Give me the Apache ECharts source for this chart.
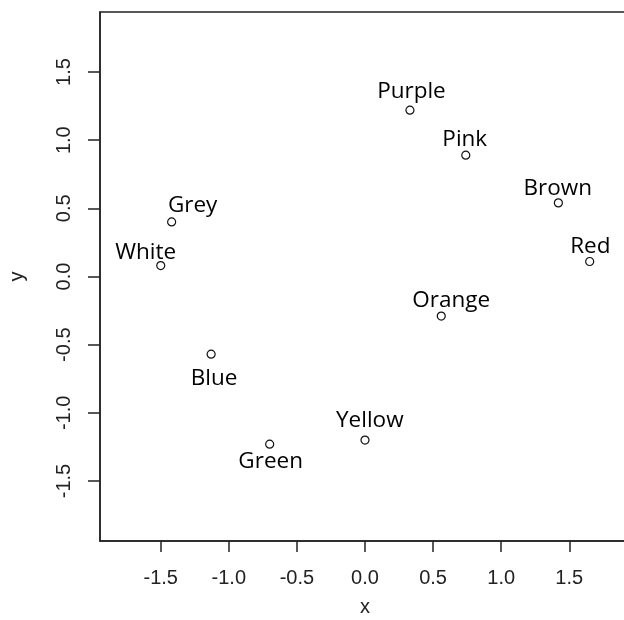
<!DOCTYPE html>
<html>
<head>
<meta charset="utf-8">
<script src="https://cdn.jsdelivr.net/npm/echarts@6/dist/echarts.min.js"></script>
<style>
  html, body { margin: 0; padding: 0; background: #fff; }
  #chart { width: 624px; height: 620px; }
</style>
</head>
<body>
<div id="chart"></div>
<script>
// ---- data ----
const names = ["Purple", "Pink", "Brown", "Red", "Orange", "Grey", "White", "Blue", "Green", "Yellow"];
const xValues = [0.33, 0.74, 1.42, 1.65, 0.56, -1.42, -1.50, -1.13, -0.70, 0.00];
const yValues = [1.22, 0.89, 0.54, 0.11, -0.29, 0.40, 0.08, -0.57, -1.23, -1.20];
const xTicks = [-1.5, -1.0, -0.5, 0.0, 0.5, 1.0, 1.5];
const yTicks = [-1.5, -1.0, -0.5, 0.0, 0.5, 1.0, 1.5];

// ---- layout (label placement relative to each point, in px) ----
const labelOffsets = {
  Purple: [1.5, -19], Pink: [-1, -16], Brown: [-0.6, -14.3], Red: [0.6, -14.6],
  Orange: [10, -15.7], Grey: [21, -16], White: [-15, -13.4], Blue: [3, 24],
  Green: [1, 17.8], Yellow: [4.8, -20]
};

const ink = '#222';
const tickFont = { fontFamily: 'Liberation Sans', fontSize: 20, color: ink };

const seriesData = names.map((n, i) => ({
  name: n,
  value: [xValues[i], yValues[i]],
  label: { offset: labelOffsets[n] }
}));

const chart = echarts.init(document.getElementById('chart'), null, { renderer: 'canvas' });
chart.setOption({
  animation: false,
  backgroundColor: '#fff',
  grid: {
    show: true, left: 100, top: 12, right: -6, bottom: 79,
    outerBoundsMode: 'none', containLabel: false,
    borderColor: '#222', borderWidth: 1.5, backgroundColor: 'transparent'
  },
  xAxis: {
    type: 'value', min: -1.946, max: 1.946,
    name: 'x', nameLocation: 'middle', nameGap: 56,
    nameTextStyle: { fontFamily: 'Liberation Sans', fontSize: 20, color: ink },
    axisLine: { show: true, onZero: false, lineStyle: { color: '#222', width: 1.5 } },
    splitLine: { show: false },
    axisTick: { show: true, length: 11, customValues: xTicks, lineStyle: { color: '#222', width: 1.5 } },
    axisLabel: Object.assign({ margin: 27, customValues: xTicks, formatter: v => v.toFixed(1) }, tickFont)
  },
  yAxis: {
    type: 'value', min: -1.94, max: 1.94,
    name: 'y', nameLocation: 'middle', nameGap: 73,
    nameTextStyle: { fontFamily: 'Liberation Sans', fontSize: 20, color: ink },
    axisLine: { show: true, onZero: false, lineStyle: { color: '#222', width: 1.5 } },
    splitLine: { show: false },
    axisTick: { show: true, length: 12, customValues: yTicks, lineStyle: { color: '#222', width: 1.5 } },
    axisLabel: Object.assign({ margin: 25.5, rotate: 90, customValues: yTicks, formatter: v => v.toFixed(1) }, tickFont)
  },
  series: [{
    type: 'scatter',
    symbol: 'circle',
    symbolSize: 8,
    itemStyle: { color: '#fff', borderColor: '#111', borderWidth: 1.2, opacity: 1 },
    label: {
      show: true, position: 'inside', formatter: p => p.name,
      fontFamily: 'Open Sans', fontSize: 22.5, color: '#000', opacity: 1
    },
    emphasis: { disabled: true },
    data: seriesData
  }]
});
</script>
</body>
</html>
